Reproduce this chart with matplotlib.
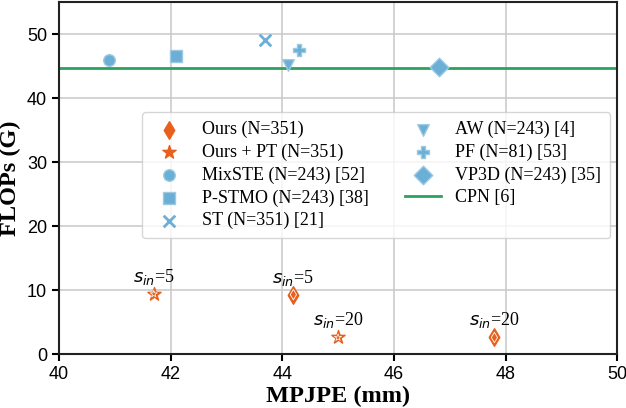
import matplotlib
matplotlib.use("Agg")
import matplotlib.pyplot as plt

#------------- DATA -------------#
ours_x = [44.2, 47.8]
ours_y = [9.3, 2.6]
ours_pt_x = [41.7, 45.0]
ours_pt_y = [9.4, 2.6]
ours_labels = [r'$s_{in}$=5', r'$s_{in}$=20']

others = [
    # label, x, y, marker
    ("MixSTE (N=243) [52]", 40.9, 46.0, "o"),
    ("P-STMO (N=243) [38]", 42.1, 46.5, "s"),
    ("ST (N=351) [21]", 43.7, 49.0, "x"),
    ("AW (N=243) [4]", 44.1, 45.2, "v"),
    ("PF (N=81) [53]", 44.3, 47.5, "P"),
    ("VP3D (N=243) [35]", 46.8, 44.8, "D"),
]
cpn_y = 44.7

orange = "#e8601c"
blue = "#6baed6"
green = "#2ca25f"

#------------- PLOT -------------#
fig = plt.figure(figsize=(6.26, 4.08), dpi=100)
ax = fig.add_axes([0.094, 0.132, 0.892, 0.863])

serif = "Liberation Serif"
sans = "Liberation Sans"

h_ours = ax.scatter(ours_x, ours_y, marker="d", s=80, c=orange, edgecolors=orange, zorder=3)
ax.scatter(ours_x, ours_y, marker="d", s=28, facecolors="none", edgecolors="white", linewidths=0.6, zorder=4)
h_pt = ax.scatter(ours_pt_x, ours_pt_y, marker="*", s=100, c=orange, edgecolors=orange, zorder=3)
ax.scatter(ours_pt_x, ours_pt_y, marker="*", s=28, facecolors="none", edgecolors="white", linewidths=0.5, zorder=4)

handles = [h_ours, h_pt]
labels = ["Ours (N=351)", "Ours + PT (N=351)"]
for name, x, y, m in others:
    size = 90 if m == "D" else 70
    if m == "x":
        h = ax.scatter([x], [y], marker=m, s=size, c=blue, linewidths=2, zorder=3)
    else:
        h = ax.scatter([x], [y], marker=m, s=size, c=blue, edgecolors="#9ecae1", linewidths=1, zorder=3)
    handles.append(h)
    labels.append(name)

h_cpn = ax.axhline(cpn_y, color=green, lw=2, zorder=2)
handles.append(h_cpn)
labels.append("CPN [6]")

for x, y, t in zip(ours_pt_x + ours_x, ours_pt_y + ours_y, ours_labels + ours_labels):
    ax.text(x, y + 1.1, t, ha="center", va="bottom", fontsize=13, family=serif)

ax.set_xlim(40, 50)
ax.set_ylim(0, 55)
ax.set_xticks([40, 42, 44, 46, 48, 50])
ax.set_yticks([0, 10, 20, 30, 40, 50])
ax.tick_params(labelsize=13, width=1.5, length=5)
for lab in ax.get_xticklabels() + ax.get_yticklabels():
    lab.set_family(sans)
ax.grid(True, color="#cccccc", lw=1.2, zorder=0)
ax.set_axisbelow(True)
for s in ax.spines.values():
    s.set_linewidth(1.5)
    s.set_color("#222222")

ax.set_xlabel("MPJPE (mm)", fontsize=17.5, fontweight="bold", family=serif, labelpad=2)
ax.set_ylabel("FLOPs (G)", fontsize=17.5, fontweight="bold", family=serif, labelpad=4)

ax.legend(handles, labels, ncol=2, loc="upper right", bbox_to_anchor=(0.9875, 0.6875),
          prop={"family": serif, "size": 13}, frameon=True, framealpha=0.8,
          edgecolor="#cccccc", borderpad=0.5, labelspacing=0.3, handletextpad=0.8,
          columnspacing=2.0, borderaxespad=0)

fig.savefig("out.png", dpi=100)
